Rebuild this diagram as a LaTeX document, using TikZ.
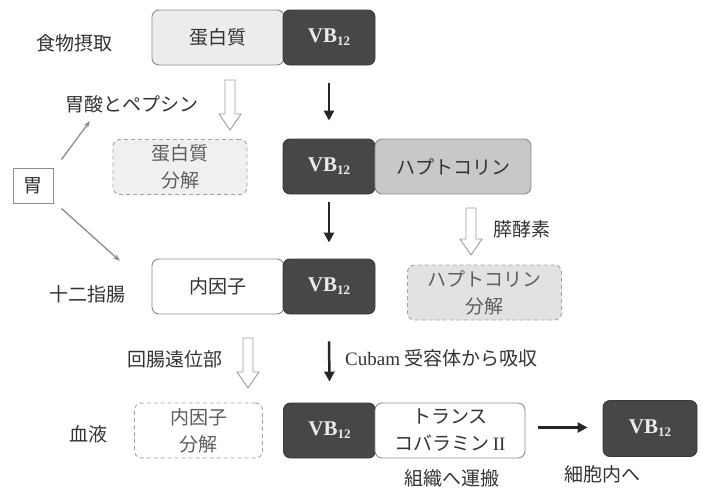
\documentclass[tikz,border=0pt]{standalone}
\usepackage{fontspec}
\setmainfont{Liberation Serif}
\newfontfamily\jp{Noto Sans CJK JP}
\usetikzlibrary{arrows.meta,calc}
\definecolor{dk}{HTML}{474747}
\definecolor{dkb}{HTML}{3a3a3a}
\definecolor{lg1}{HTML}{ECECEC}
\definecolor{hap}{HTML}{C8C8C8}
\definecolor{hapd}{HTML}{E2E2E2}
\definecolor{dsh}{HTML}{F0F0F0}
\definecolor{bd}{HTML}{8C8C8C}
\definecolor{txt}{HTML}{333333}
\definecolor{txtg}{HTML}{5E5E5E}
\newcommand\vbt{\textbf{VB}\raisebox{-0.3ex}{\fontsize{13}{13}\selectfont\bfseries 12}}
\newcommand\hollowarr[3]{%
  \draw[hollowa] ({#1-5},#2) -- ({#1+5},#2) -- ({#1+5},{#3-16}) -- ({#1+11},{#3-16})
   -- (#1,#3) -- ({#1-11},{#3-16}) -- ({#1-5},{#3-16}) -- cycle;}
\begin{document}
\begin{tikzpicture}[x=1pt,y=-1pt,
  font=\jp\fontsize{19}{27}\selectfont, text=txt,
  box/.style={rounded corners=7, minimum height=55, inner sep=0, align=center, line width=0.9},
  darkb/.style={box, fill=dk, draw=dkb, text=white!92!black, font=\rmfamily\fontsize{21}{21}\selectfont},
  lightb/.style={box, fill=lg1, draw=bd},
  hapb/.style={box, fill=hap, draw=bd},
  whiteb/.style={box, fill=white, draw=bd},
  dashb/.style={box, draw=bd!80, dash pattern=on 4pt off 3pt, text=txtg},
  hollowa/.style={draw=bd!85, fill=white, line width=0.9},
  blk/.style={line width=2.5, draw=black!85, -{Triangle[length=10pt,width=10pt]}},
  gra/.style={line width=1.3, draw=black!45, -{Stealth[length=7pt,width=5pt]}},
  lbl/.style={inner sep=0}]
\useasboundingbox (0,0) rectangle (707,490);

% row 1
\node[lbl] (l1) at (74,43) {食物摂取};
\node[lightb, minimum width=132] (p1) at (218,37.5) {蛋白質};
\node[darkb, minimum width=92] (v1) at (329,37.5) {\vbt};

% row 2
\node[lbl] (l2) at (132,104) {胃酸とペプシン};
\node[dashb, fill=dsh, minimum width=134] (pd) at (180,167) {蛋白質\\分解};
\node[darkb, minimum width=92] (v2) at (329,166.5) {\vbt};
\node[hapb, minimum width=156] (h1) at (453,166.5) {ハプトコリン};
\node[whiteb, rounded corners=0, minimum width=40, minimum height=35, line width=0.8] (st) at (33,185.5) {胃};

% row 3
\node[lbl] (l3) at (522,229) {膵酵素};
\node[lbl] (l4) at (87,294) {十二指腸};
\node[whiteb, minimum width=132] (if) at (218,286.5) {内因子};
\node[darkb, minimum width=92] (v3) at (329,286.5) {\vbt};
\node[dashb, fill=hapd, minimum width=154] (hd) at (484.5,292.5) {ハプトコリン\\分解};

% row 4
\node[lbl] (l5) at (175,359) {回腸遠位部};
\node[lbl, anchor=west] (l6) at (345,358) {{\rmfamily Cubam} 受容体から吸収};
\node[lbl] (l7) at (88,434) {血液};
\node[dashb, fill=white, minimum width=128] (ifd) at (198.5,430.5) {内因子\\分解};
\node[darkb, minimum width=92] (v4) at (329.5,430.5) {\vbt};
\node[whiteb, minimum width=150] (tc) at (450,430.5) {トランス\\コバラミン{\rmfamily\,II}};
\node[darkb, minimum width=94, minimum height=56] (v5) at (650,428.5) {\vbt};
\node[lbl] (l8) at (452,478) {組織へ運搬};
\node[lbl] (l9) at (602,474) {細胞内へ};

% hollow arrows
\hollowarr{230}{80}{130}
\hollowarr{471}{208}{255}
\hollowarr{248}{338}{388}

% black arrows
\draw[blk] ($(v1.south)+(0,18)$) -- ($(v2.north)+(0,-18)$);
\draw[blk] ($(v2.south)+(0,8)$) -- ($(v3.north)+(0,-16)$);
\draw[blk] ($(v3.south)+(0,27)$) -- ($(v4.north)+(0,-21)$);
\draw[blk] ($(tc.east)+(13,-3)$) -- ($(v5.west)+(-15,-1)$);

% grey arrows from stomach
\coordinate (g1) at (90,121);
\coordinate (g2) at (120,261);
\draw[gra] ($(st.north east)+(8,-8)$) -- (g1);
\draw[gra] ($(st.south east)+(8,5)$) -- (g2);
\end{tikzpicture}
\end{document}
